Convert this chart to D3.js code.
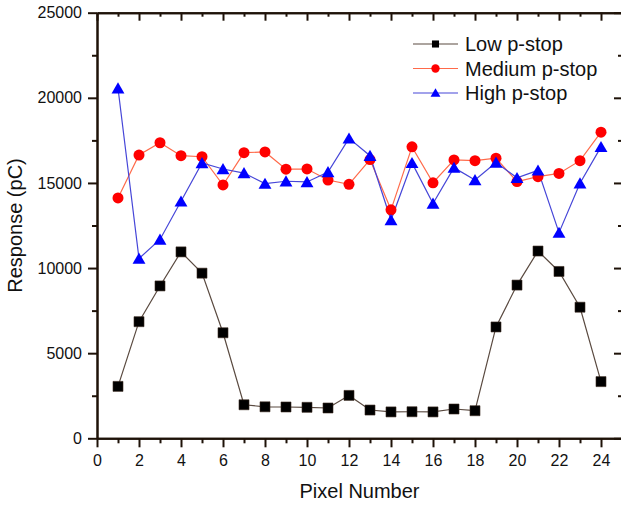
<!DOCTYPE html>
<html>
<head>
<meta charset="utf-8">
<script src="https://cdn.jsdelivr.net/npm/d3@7"></script>
<style>
  html, body { margin: 0; padding: 0; background: #fff; }
  svg { display: block; font-family: "Liberation Sans", Arial, sans-serif; }
</style>
</head>
<body>
<svg id="chart" width="621" height="507"></svg>
<script>
// Pixel index along the detector
const pixels = d3.range(1, 25);

// Response (pC) per pixel for each p-stop dose
const lowPStop = [3050, 6850, 8950, 10950, 9700, 6200, 1970, 1850, 1840, 1820, 1780, 2520,
                  1660, 1550, 1560, 1550, 1720, 1620, 6540, 9000, 11000, 9800, 7700, 3330];
const mediumPStop = [14120, 16640, 17360, 16600, 16540, 14880, 16780, 16820, 15810, 15820, 15170, 14920,
                     16370, 13420, 17120, 15010, 16350, 16310, 16450, 15080, 15370, 15560, 16310, 17980];
const highPStop = [20560, 10560, 11680, 13920, 16170, 15820, 15580, 14960, 15100, 15060, 15640, 17620,
                   16600, 12820, 16180, 13790, 15900, 15170, 16200, 15300, 15740, 12080, 14980, 17120];

const seriesNames = ["Low p-stop", "Medium p-stop", "High p-stop"];

const xMajorTicks = d3.range(0, 25, 2);
const xMinorTicks = d3.range(1, 26, 2);
const yMajorTicks = [0, 5000, 10000, 15000, 20000, 25000];
const yMinorTicks = [2500, 7500, 12500, 17500, 22500];

const svg = d3.select("#chart");
const plotLeft = 97, plotRight = 622, plotTop = 12.7, plotBottom = 438.3;
const axisColor = "#1e1208";

const x = d3.scaleLinear().domain([0, 25]).range([plotLeft, plotRight]);
const y = d3.scaleLinear().domain([0, 25000]).range([plotBottom, plotTop]);

const series = [
  { name: seriesNames[0], values: lowPStop, line: "#5a4a40", fill: "#000000", symbol: d3.symbolSquare, size: 100, legendSize: 50 },
  { name: seriesNames[1], values: mediumPStop, line: "#ff6a4a", fill: "#ff0000", symbol: d3.symbolCircle, size: 95, legendSize: 55 },
  { name: seriesNames[2], values: highPStop, line: "#4646d8", fill: "#0000ff", symbol: d3.symbolTriangle, size: 72, legendSize: 42 }
];

// Data lines and markers
const lineGen = d3.line().x((d, i) => x(pixels[i])).y(d => y(d));
const plot = svg.append("g");
series.forEach(s => {
  plot.append("path")
    .attr("d", lineGen(s.values))
    .attr("fill", "none")
    .attr("stroke", s.line)
    .attr("stroke-width", 1.2);
});
series.forEach(s => {
  const sym = d3.symbol().type(s.symbol).size(s.size);
  plot.selectAll(null)
    .data(s.values)
    .join("path")
    .attr("d", sym)
    .attr("transform", (d, i) => {
      const dy = s.symbol === d3.symbolTriangle ? 1.5 : 0;
      return `translate(${x(pixels[i])},${y(d) + dy})`;
    })
    .attr("fill", s.fill)
    .attr("stroke", s.symbol === d3.symbolSquare ? "#3a2a20" : "none")
    .attr("stroke-width", 0.6);
});

// Axes: left and bottom carry labels with outward ticks; top and right mirror them inward
const axisFont = 16;
function styleAxis(g) {
  g.select(".domain").attr("stroke", axisColor).attr("stroke-width", 2);
  g.selectAll(".tick line").attr("stroke", axisColor).attr("stroke-width", 2);
  g.selectAll(".tick text").attr("fill", "#111").style("font-size", axisFont + "px")
    .style("font-family", "'Liberation Sans', Arial, sans-serif");
}

svg.append("g").attr("transform", `translate(0,${plotBottom})`)
  .call(d3.axisBottom(x).tickValues(xMinorTicks).tickSize(5).tickFormat("").tickSizeOuter(0))
  .call(styleAxis);
svg.append("g").attr("transform", `translate(0,${plotBottom})`)
  .call(d3.axisBottom(x).tickValues(xMajorTicks).tickSize(9).tickPadding(7).tickFormat(d3.format("d")).tickSizeOuter(0))
  .call(styleAxis);

svg.append("g").attr("transform", `translate(${plotLeft},0)`)
  .call(d3.axisLeft(y).tickValues(yMinorTicks).tickSize(5).tickFormat("").tickSizeOuter(0))
  .call(styleAxis);
svg.append("g").attr("transform", `translate(${plotLeft},0)`)
  .call(d3.axisLeft(y).tickValues(yMajorTicks).tickSize(9).tickPadding(6).tickFormat(d3.format("d")).tickSizeOuter(0))
  .call(styleAxis);

svg.append("g").attr("transform", `translate(0,${plotTop})`)
  .call(d3.axisBottom(x).tickValues(xMinorTicks).tickSize(4).tickFormat("").tickSizeOuter(0))
  .call(styleAxis);
svg.append("g").attr("transform", `translate(0,${plotTop})`)
  .call(d3.axisBottom(x).tickValues(xMajorTicks).tickSize(8).tickFormat("").tickSizeOuter(0))
  .call(styleAxis);

svg.append("g").attr("transform", `translate(${plotRight},0)`)
  .call(d3.axisLeft(y).tickValues(yMinorTicks).tickSize(4).tickFormat("").tickSizeOuter(0))
  .call(styleAxis);
svg.append("g").attr("transform", `translate(${plotRight},0)`)
  .call(d3.axisLeft(y).tickValues(yMajorTicks).tickSize(8).tickFormat("").tickSizeOuter(0))
  .call(styleAxis);

// Axis titles
svg.append("text")
  .attr("x", (plotLeft + plotRight) / 2)
  .attr("y", 498)
  .attr("text-anchor", "middle")
  .style("font-size", "20px")
  .attr("fill", "#111")
  .text("Pixel Number");

svg.append("text")
  .attr("transform", `translate(22,${(plotTop + plotBottom) / 2}) rotate(-90)`)
  .attr("text-anchor", "middle")
  .style("font-size", "20px")
  .attr("fill", "#111")
  .text("Response (pC)");

// Legend
const legend = svg.append("g").attr("transform", "translate(413,44)");
series.forEach((s, i) => {
  const row = legend.append("g").attr("transform", `translate(0,${i * 24.5})`);
  row.append("line").attr("x1", 0).attr("x2", 45).attr("y1", 0).attr("y2", 0)
    .attr("stroke", s.line).attr("stroke-width", 1.2);
  row.append("path")
    .attr("d", d3.symbol().type(s.symbol).size(s.legendSize))
    .attr("transform", `translate(22.5,${s.symbol === d3.symbolTriangle ? 1 : 0})`)
    .attr("fill", s.fill);
  row.append("text")
    .attr("x", 52)
    .attr("y", 0)
    .attr("dy", "0.35em")
    .style("font-size", "20px")
    .attr("fill", "#111")
    .text(s.name);
});
</script>
</body>
</html>
